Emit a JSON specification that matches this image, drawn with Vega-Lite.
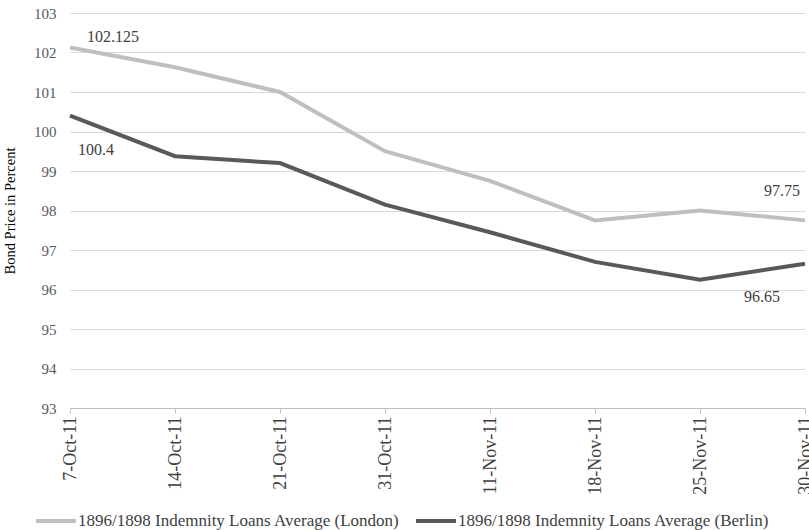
{
  "$schema": "https://vega.github.io/schema/vega-lite/v6.json",
  "width": 735,
  "height": 395,
  "autosize": {"type": "none"},
  "padding": {"left": 70, "top": 13, "right": 4, "bottom": 122},
  "background": "white",
  "config": {
    "font": "Liberation Serif",
    "view": {"stroke": null},
    "text": {"font": "Liberation Serif"},
    "axis": {"labelFont": "Liberation Serif", "titleFont": "Liberation Serif", "labelColor": "#595959", "titleColor": "#000000"}
  },
  "data": {
    "values": [
      {"date": "7-Oct-11", "series": "1896/1898 Indemnity Loans Average (London)", "price": 102.125},
      {"date": "14-Oct-11", "series": "1896/1898 Indemnity Loans Average (London)", "price": 101.625},
      {"date": "21-Oct-11", "series": "1896/1898 Indemnity Loans Average (London)", "price": 101.0},
      {"date": "31-Oct-11", "series": "1896/1898 Indemnity Loans Average (London)", "price": 99.5},
      {"date": "11-Nov-11", "series": "1896/1898 Indemnity Loans Average (London)", "price": 98.75},
      {"date": "18-Nov-11", "series": "1896/1898 Indemnity Loans Average (London)", "price": 97.75},
      {"date": "25-Nov-11", "series": "1896/1898 Indemnity Loans Average (London)", "price": 98.0},
      {"date": "30-Nov-11", "series": "1896/1898 Indemnity Loans Average (London)", "price": 97.75},
      {"date": "7-Oct-11", "series": "1896/1898 Indemnity Loans Average (Berlin)", "price": 100.4},
      {"date": "14-Oct-11", "series": "1896/1898 Indemnity Loans Average (Berlin)", "price": 99.375},
      {"date": "21-Oct-11", "series": "1896/1898 Indemnity Loans Average (Berlin)", "price": 99.2},
      {"date": "31-Oct-11", "series": "1896/1898 Indemnity Loans Average (Berlin)", "price": 98.15},
      {"date": "11-Nov-11", "series": "1896/1898 Indemnity Loans Average (Berlin)", "price": 97.45},
      {"date": "18-Nov-11", "series": "1896/1898 Indemnity Loans Average (Berlin)", "price": 96.7},
      {"date": "25-Nov-11", "series": "1896/1898 Indemnity Loans Average (Berlin)", "price": 96.25},
      {"date": "30-Nov-11", "series": "1896/1898 Indemnity Loans Average (Berlin)", "price": 96.65}
    ]
  },
  "encoding": {
    "x": {
      "field": "date", "type": "ordinal", "sort": null,
      "scale": {"type": "point", "padding": 0},
      "axis": {"title": null, "labelAngle": -90, "labelFontSize": 18, "labelColor": "#404040", "labelOverlap": false, "labelBound": false, "domainColor": "#bfbfbf", "tickColor": "#bfbfbf", "tickSize": 5, "labelPadding": 3, "grid": false}
    },
    "y": {
      "field": "price", "type": "quantitative",
      "scale": {"domain": [93, 103], "nice": false, "zero": false},
      "axis": {"title": "Bond Price in Percent", "titleFontSize": 14.5, "titleFontWeight": "normal", "titlePadding": 16, "labelFontSize": 15, "labelColor": "#595959", "labelOverlap": false, "values": [93,94,95,96,97,98,99,100,101,102,103], "domain": false, "ticks": false, "labelPadding": 14, "gridColor": "#d9d9d9", "gridWidth": 1}
    }
  },
  "layer": [
    {
      "mark": {"type": "line", "strokeWidth": 4},
      "encoding": {
        "color": {
          "field": "series", "type": "nominal",
          "scale": {"domain": ["1896/1898 Indemnity Loans Average (London)", "1896/1898 Indemnity Loans Average (Berlin)"], "range": ["#bfbfbf", "#595959"]},
          "legend": {"title": null, "orient": "none", "direction": "horizontal", "legendX": -36, "legendY": 486, "symbolType": "stroke", "symbolStrokeWidth": 4, "symbolSize": 1600, "labelFontSize": 17, "labelColor": "#404040", "labelFont": "Liberation Serif", "columnPadding": 8, "labelOffset": 0, "labelLimit": 500}
        }
      }
    },
    {
      "transform": [{"filter": "datum.date == '7-Oct-11' && datum.price > 102"}],
      "mark": {"type": "text", "align": "left", "baseline": "middle", "dx": 17, "dy": -11, "fontSize": 16, "font": "Liberation Serif", "color": "#404040"},
      "encoding": {"text": {"field": "price", "type": "quantitative", "format": ".3~f"}}
    },
    {
      "transform": [{"filter": "datum.date == '7-Oct-11' && datum.price < 101"}],
      "mark": {"type": "text", "align": "left", "baseline": "middle", "dx": 8, "dy": 34, "fontSize": 16, "font": "Liberation Serif", "color": "#404040"},
      "encoding": {"text": {"field": "price", "type": "quantitative", "format": ".3~f"}}
    },
    {
      "transform": [{"filter": "datum.date == '30-Nov-11' && datum.price > 97"}],
      "mark": {"type": "text", "align": "right", "baseline": "middle", "dx": -5, "dy": -29, "fontSize": 16, "font": "Liberation Serif", "color": "#404040"},
      "encoding": {"text": {"field": "price", "type": "quantitative", "format": ".3~f"}}
    },
    {
      "transform": [{"filter": "datum.date == '30-Nov-11' && datum.price < 97"}],
      "mark": {"type": "text", "align": "right", "baseline": "middle", "dx": -25, "dy": 33, "fontSize": 16, "font": "Liberation Serif", "color": "#404040"},
      "encoding": {"text": {"field": "price", "type": "quantitative", "format": ".3~f"}}
    }
  ]
}
